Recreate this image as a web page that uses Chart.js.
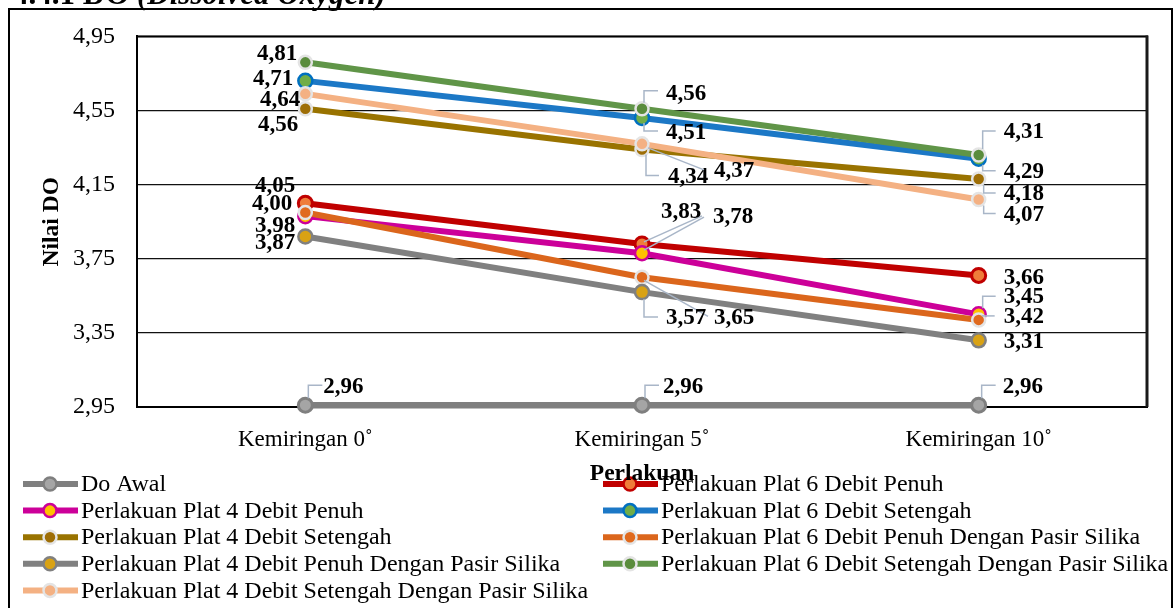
<!DOCTYPE html>
<html>
<head>
<meta charset="utf-8">
<script src="https://cdn.jsdelivr.net/npm/chart.js@4.4.1/dist/chart.umd.min.js"></script>
<style>
  html, body { margin: 0; padding: 0; background: #fff; }
  #wrap { position: relative; width: 1176px; height: 608px; }
</style>
</head>
<body>
<div id="wrap"><canvas id="c" width="1176" height="608"></canvas></div>
<script>
// Categories and measured DO values
const categories = ['Kemiringan 0˚', 'Kemiringan 5˚', 'Kemiringan 10˚'];
const yTickValues = [2.95, 3.35, 3.75, 4.15, 4.55, 4.95];

const doAwal              = [2.96, 2.96, 2.96];
const plat6Penuh          = [4.05, 3.83, 3.66];
const plat4Penuh          = [3.98, 3.78, 3.45];
const plat6Setengah       = [4.71, 4.51, 4.29];
const plat4Setengah       = [4.56, 4.34, 4.18];
const plat6PenuhSilika    = [4.00, 3.65, 3.42];
const plat4PenuhSilika    = [3.87, 3.57, 3.31];
const plat6SetengahSilika = [4.81, 4.56, 4.31];
const plat4SetengahSilika = [4.64, 4.37, 4.07];

// Series in plotting order (legend fills two columns row by row)
const seriesNames = [
  'Do Awal',
  'Perlakuan Plat 6 Debit Penuh',
  'Perlakuan Plat 4 Debit Penuh',
  'Perlakuan Plat 6 Debit Setengah',
  'Perlakuan Plat 4 Debit Setengah',
  'Perlakuan Plat 6 Debit Penuh Dengan Pasir Silika',
  'Perlakuan Plat 4 Debit Penuh Dengan Pasir Silika',
  'Perlakuan Plat 6 Debit Setengah Dengan Pasir Silika',
  'Perlakuan Plat 4 Debit Setengah Dengan Pasir Silika'
];
const seriesValues = [doAwal, plat6Penuh, plat4Penuh, plat6Setengah, plat4Setengah,
                      plat6PenuhSilika, plat4PenuhSilika, plat6SetengahSilika, plat4SetengahSilika];

// Line / marker styling per series
const seriesStyle = [
  { line: '#7F7F7F', fill: '#A5A5A5', edge: '#7F7F7F', r: 7,   bw: 3,   lw: 6.5 },
  { line: '#C00000', fill: '#EF7D3A', edge: '#C00000', r: 7,   bw: 3,   lw: 6 },
  { line: '#CC0099', fill: '#FFC000', edge: '#CC0099', r: 7,   bw: 2.5, lw: 6 },
  { line: '#1C78C6', fill: '#70AD47', edge: '#0070C0', r: 7,   bw: 2.5, lw: 6 },
  { line: '#997300', fill: '#9E6E06', edge: '#E4E4E4', r: 6.5, bw: 2.5, lw: 6 },
  { line: '#DB661C', fill: '#E06A1E', edge: '#E4E4E4', r: 6.5, bw: 2.5, lw: 6 },
  { line: '#808080', fill: '#D9A214', edge: '#808080', r: 7,   bw: 2.5, lw: 6 },
  { line: '#609548', fill: '#5A8C3C', edge: '#E4E4E4', r: 6.5, bw: 2.5, lw: 6 },
  { line: '#F4B183', fill: '#F4B183', edge: '#E4E4E4', r: 6.5, bw: 2.5, lw: 6 }
];

// Value label placement relative to each point: [dx, dy, align, leader polyline]
const doAwalLeader = [[3, -7], [3, -20], [17, -20]];
const labelPlacement = [
  [[18, -18, 'left', doAwalLeader], [21, -18, 'left', doAwalLeader], [24, -18, 'left', doAwalLeader]],
  [[-10, -17, 'right'], [19, -32, 'left', [[2, -2], [60, -28]]], [25, 3, 'left']],
  [[-10, 9.5, 'right'], [71, -36, 'left', [[2, -3], [62, -36]]], [25, -17.5, 'left', [[4, -6], [4, -18], [17, -18]]]],
  [[-12, -2, 'right'], [24, 15, 'left', [[2, 5], [2, 13], [16, 13]]], [25, 13.5, 'left', [[4, 6], [4, 12], [17, 12]]]],
  [[-7, 16.5, 'right'], [26, 27.5, 'left', [[4, 5], [4, 26], [17, 26]]], [25, 15, 'left', [[5, 6], [5, 14], [17, 14]]]],
  [[-13, -8, 'right'], [72, 41, 'left', [[2, 3], [66, 39]]], [25, -3, 'left', [[3, -4], [16, -4]]]],
  [[-10, 7, 'right'], [24, 26, 'left', [[2, 7], [2, 25], [16, 25]]], [25, 2, 'left']],
  [[-8, -8, 'right'], [24, -15, 'left', [[2, -6], [2, -18], [16, -18]]], [25, -23, 'left', [[4, -6], [4, -24], [17, -24]]]],
  [[-5, 6.5, 'right'], [72, 27, 'left', [[6, 4], [62, 26]]], [25, 15.5, 'left', [[5, 6], [5, 14], [17, 14]]]]
];

const SERIF = "'Liberation Serif', 'Times New Roman', serif";
const fmt = v => v.toFixed(2).replace('.', ',');

const datasets = seriesValues.map((vals, i) => ({
  label: seriesNames[i],
  data: vals,
  borderColor: seriesStyle[i].line,
  backgroundColor: seriesStyle[i].fill,
  borderWidth: seriesStyle[i].lw,
  pointRadius: seriesStyle[i].r,
  pointHoverRadius: seriesStyle[i].r,
  pointBackgroundColor: seriesStyle[i].fill,
  pointBorderColor: seriesStyle[i].edge,
  pointBorderWidth: seriesStyle[i].bw,
  tension: 0,
  clip: false,
  order: seriesValues.length - i   // later series are drawn on top
}));

// Page heading partly above the frame, plus the outer frame and the legend
const backdropPlugin = {
  id: 'backdrop',
  beforeDraw(chart) {
    const ctx = chart.ctx;
    ctx.save();
    ctx.fillStyle = '#000';
    ctx.textBaseline = 'alphabetic';
    ctx.textAlign = 'left';
    ctx.font = 'bold 31px ' + SERIF;
    ctx.fillText('4.4.1 DO ', 13, 4);
    const w = ctx.measureText('4.4.1 DO ').width;
    ctx.font = 'italic bold 31px ' + SERIF;
    ctx.fillText('(Dissolved Oxygen)', 13 + w, 4);

    ctx.strokeStyle = '#000';
    ctx.lineWidth = 2;
    ctx.strokeRect(9, 9, 1163, 640);

    // legend: two columns, filled row by row
    const rowH = 26.6;
    chart.data.datasets.forEach((ds, i) => {
      const col = i % 2;
      const row = Math.floor(i / 2);
      const x0 = col === 0 ? 23 : 603;
      const y = 484 + row * rowH;
      const st = seriesStyle[i];
      ctx.strokeStyle = st.line;
      ctx.lineWidth = 6;
      ctx.lineCap = 'butt';
      ctx.beginPath();
      ctx.moveTo(x0, y);
      ctx.lineTo(x0 + 55, y);
      ctx.stroke();
      ctx.beginPath();
      ctx.arc(x0 + 27, y, 6.5, 0, Math.PI * 2);
      ctx.fillStyle = st.fill;
      ctx.fill();
      ctx.lineWidth = 2.5;
      ctx.strokeStyle = st.edge;
      ctx.stroke();
      ctx.fillStyle = '#000';
      ctx.font = '24px ' + SERIF;
      ctx.textBaseline = 'middle';
      ctx.fillText(ds.label, x0 + 58, y + 1);
    });
    ctx.restore();
  },
  beforeDatasetsDraw(chart) {
    const { ctx, chartArea: a } = chart;
    ctx.save();
    ctx.strokeStyle = '#000';
    ctx.lineWidth = 2;
    ctx.strokeRect(a.left, a.top, a.right - a.left, a.bottom - a.top);
    ctx.lineWidth = 3;
    ctx.strokeStyle = '#1a1a1a';
    ctx.beginPath();
    ctx.moveTo(a.right, a.top - 1);
    ctx.lineTo(a.right, a.bottom);
    ctx.stroke();
    ctx.restore();
  }
};

// Value labels with leader lines
const valueLabelPlugin = {
  id: 'valueLabels',
  afterDatasetsDraw(chart) {
    const ctx = chart.ctx;
    ctx.save();
    chart.data.datasets.forEach((ds, i) => {
      const meta = chart.getDatasetMeta(i);
      meta.data.forEach((pt, j) => {
        const p = labelPlacement[i][j];
        const leader = p[3];
        if (leader) {
          ctx.strokeStyle = '#A9B6C8';
          ctx.lineWidth = 1.5;
          ctx.beginPath();
          leader.forEach((q, k) => {
            const lx = pt.x + q[0], ly = pt.y + q[1];
            if (k === 0) ctx.moveTo(lx, ly); else ctx.lineTo(lx, ly);
          });
          ctx.stroke();
        }
        ctx.fillStyle = '#000';
        ctx.font = 'bold 23px ' + SERIF;
        ctx.textAlign = p[2];
        ctx.textBaseline = 'middle';
        ctx.fillText(fmt(ds.data[j]), pt.x + p[0], pt.y + p[1]);
      });
    });
    ctx.restore();
  }
};

new Chart(document.getElementById('c'), {
  type: 'line',
  data: { labels: categories, datasets },
  options: {
    responsive: false,
    animation: false,
    devicePixelRatio: 1,
    layout: { padding: { top: 32, right: 29, bottom: 0, left: 0 } },
    plugins: { legend: { display: false }, tooltip: { enabled: false } },
    scales: {
      x: {
        offset: true,
        grid: { display: false, drawTicks: false },
        border: { display: true, color: '#000', width: 2 },
        ticks: { color: '#000', font: { family: SERIF, size: 23 }, padding: 19, maxRotation: 0 },
        title: {
          display: true, text: 'Perlakuan', color: '#000',
          font: { family: SERIF, size: 23.5, weight: 'bold', lineHeight: 1 },
          padding: { top: 0, bottom: 122 }
        },
        afterFit(scale) { scale.height = 201; }
      },
      y: {
        min: 2.95,
        max: 4.95,
        grid: { color: '#111', lineWidth: 1.2, drawTicks: false },
        border: { display: true, color: '#000', width: 2 },
        ticks: { color: '#000', font: { family: SERIF, size: 24 }, padding: 22, callback: v => fmt(v) },
        afterBuildTicks(scale) { scale.ticks = yTickValues.map(v => ({ value: v })); },
        title: {
          display: true, text: 'Nilai DO', color: '#000',
          font: { family: SERIF, size: 23.5, weight: 'bold', lineHeight: 1 },
          padding: { top: 40, bottom: 0 }
        },
        afterFit(scale) { scale.width = 137; }
      }
    }
  },
  plugins: [backdropPlugin, valueLabelPlugin]
});
</script>
</body>
</html>
